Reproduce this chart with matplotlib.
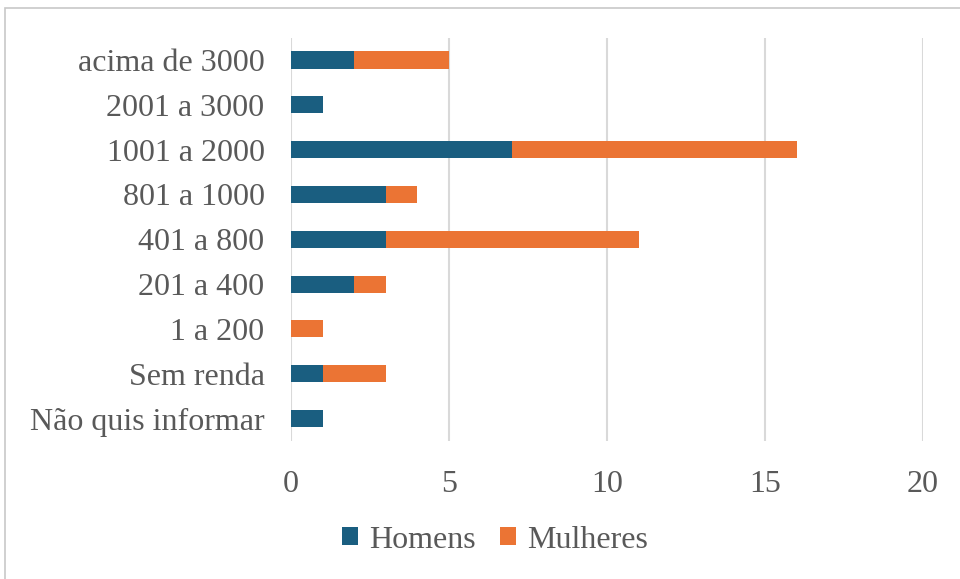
import matplotlib
matplotlib.use("Agg")
import matplotlib.pyplot as plt
from matplotlib.patches import Rectangle

categories = ["Não quis informar", "Sem renda", "1 a 200", "201 a 400", "401 a 800",
              "801 a 1000", "1001 a 2000", "2001 a 3000", "acima de 3000"]
homens = [1, 1, 0, 2, 3, 3, 7, 1, 2]
mulheres = [0, 2, 1, 1, 8, 1, 9, 0, 3]
xticks = [0, 5, 10, 15, 20]

plt.rcParams['font.family'] = ['Liberation Serif', 'DejaVu Serif']
txt = '#595959'
blue = '#1A5E80'
orange = '#EB7434'

fig = plt.figure(figsize=(9.6, 5.79), dpi=100)
fig.patches.append(Rectangle((5/960, -0.1), 1.2, 1.1 - 8/579, transform=fig.transFigure,
                             fill=False, edgecolor='#C8C8C8', linewidth=1.2))
ax = fig.add_axes([291/960, 1 - 441/579, (923 - 291)/960, (441 - 37.6)/579])

y = range(len(categories))
ax.barh(y, homens, height=0.38, color=blue, label='Homens', zorder=3)
ax.barh(y, mulheres, left=homens, height=0.38, color=orange, label='Mulheres', zorder=3)

ax.set_xlim(0, 20)
ax.set_ylim(-0.5, len(categories) - 0.5)
ax.set_xticks(xticks)
ax.set_yticks(list(y))
ax.set_yticklabels(categories)
ax.tick_params(axis='both', length=0, labelsize=23, colors=txt)
ax.tick_params(axis='x', pad=21)
ax.tick_params(axis='y', pad=19)
ax.grid(axis='x', color='#D9D9D9', linewidth=1.5, zorder=0)
for s in ax.spines.values():
    s.set_visible(False)

ax.legend(loc='center', bbox_to_anchor=(495/960, 1 - 540/579), bbox_transform=fig.transFigure,
          ncol=2, frameon=False, fontsize=23, labelcolor=txt, handlelength=0.5,
          handleheight=0.5, handletextpad=0.35, columnspacing=0.75)

fig.savefig('out.png', dpi=100)
